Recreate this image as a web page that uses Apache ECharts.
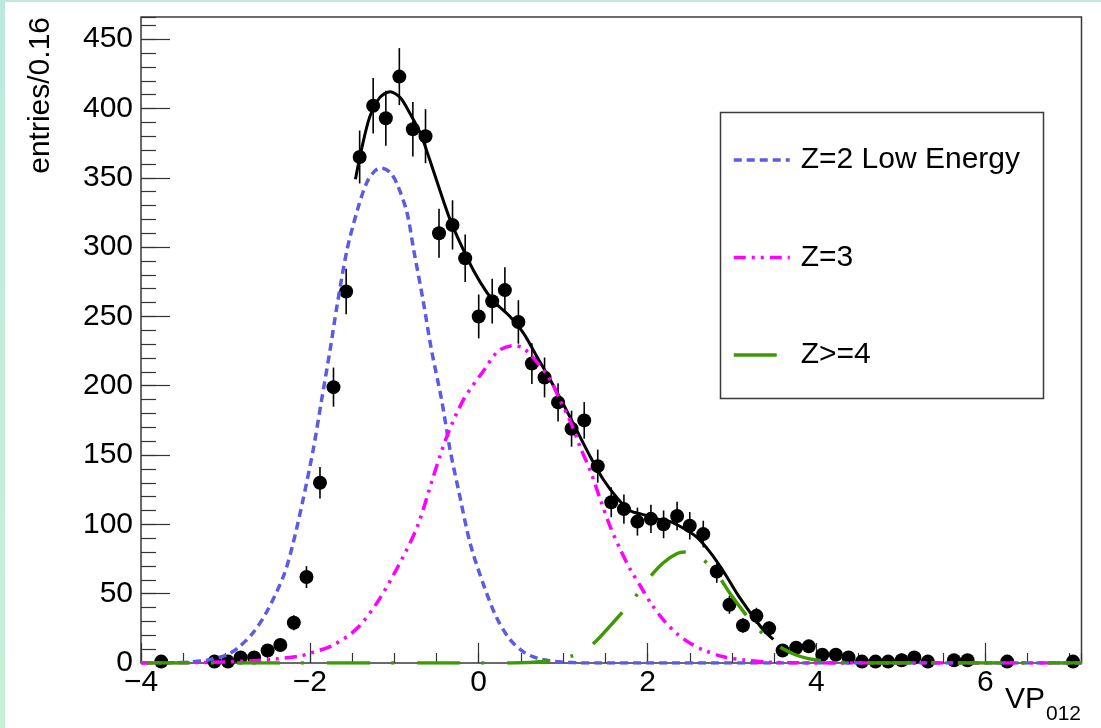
<!DOCTYPE html>
<html>
<head>
<meta charset="utf-8">
<script src="https://cdn.jsdelivr.net/npm/echarts@6/dist/echarts.min.js"></script>
<style>
  html, body { margin: 0; padding: 0; background: #fff; }
  #chart { position: absolute; left: 0; top: 0; width: 1101px; height: 728px; }
  .edge-left { position: absolute; left: 0; top: 0; width: 5px; height: 728px;
               background: linear-gradient(#bde8df, #c6f1d6); }
  .edge-top { position: absolute; left: 0; top: 0; width: 1101px; height: 2px; background: #bfe9df; }
</style>
</head>
<body>
<div id="chart"></div>
<div class="edge-left"></div>
<div class="edge-top"></div>
<script>
// Histogram of VP012: bin centres and counts (empty bins are left out)
const binCenters = [
  -3.76, -3.13, -2.97, -2.82, -2.66, -2.50, -2.35, -2.19, -2.04, -1.88,
  -1.72, -1.57, -1.41, -1.25, -1.10, -0.94, -0.78, -0.63, -0.47, -0.31,
  -0.16, 0.00, 0.16, 0.31, 0.47, 0.63, 0.78, 0.94, 1.10, 1.25,
  1.41, 1.57, 1.72, 1.88, 2.04, 2.19, 2.35, 2.50, 2.66, 2.82,
  2.97, 3.13, 3.29, 3.44, 3.60, 3.76, 3.91, 4.07, 4.23, 4.38,
  4.54, 4.70, 4.85, 5.01, 5.16, 5.32, 5.63, 5.79, 6.26, 7.04
];
const entries = [
  1, 1, 1, 4, 4, 9, 13, 29, 62, 130,
  199, 268, 365, 402, 393, 423, 385, 380, 310, 316,
  292, 250, 261, 269, 246, 216, 206, 188, 169, 175,
  142, 116, 111, 102, 104, 100, 106, 99, 93, 66,
  42, 27, 34, 25, 9, 11, 12, 6, 6, 4,
  1, 1, 1, 2, 4, 1, 2, 2, 1, 1
];

// Total fit curve (x, y samples)
const fitX = [-1.46, -1.39, -1.29, -1.17, -1.05, -0.93, -0.81, -0.69, -0.58, -0.46,
  -0.34, -0.22, -0.06, 0.10, 0.21, 0.37, 0.53, 0.69, 0.85, 1.00,
  1.16, 1.32, 1.48, 1.64, 1.79, 1.95, 2.11, 2.27, 2.43, 2.58,
  2.74, 2.90, 3.06, 3.22, 3.37, 3.49];
const fitY = [349, 370, 394, 408, 412, 408, 396, 382, 363, 341,
  320, 303, 283, 267, 259, 250, 238, 221, 204, 187,
  168, 149, 132, 119, 110, 107, 104, 102, 97, 91,
  80, 66, 50, 36, 24, 17];

// Z=2 low energy component
const z2X = [-4.00, -3.60, -3.42, -3.22, -2.98, -2.83, -2.67, -2.51, -2.31, -2.20,
  -2.08, -1.96, -1.86, -1.76, -1.68, -1.56, -1.44, -1.33, -1.23, -1.15,
  -1.05, -0.97, -0.85, -0.77, -0.66, -0.56, -0.44, -0.34, -0.24, -0.10,
  0.06, 0.21, 0.37, 0.53, 0.69, 0.85, 1.00, 1.20, 1.40, 7.14];
const z2Y = [0, 0.3, 0.7, 2, 6, 12, 22, 37, 63, 86,
  118, 154, 190, 226, 257, 298, 326, 346, 355, 357,
  354, 346, 325, 298, 262, 226, 190, 154, 125, 86,
  56, 33, 17, 8, 3.5, 1.5, 0.6, 0.1, 0, 0];

// Z=3 component
const z3X = [-4.00, -3.30, -2.71, -2.39, -2.12, -2.00, -1.72, -1.44, -1.21, -0.97,
  -0.73, -0.54, -0.38, -0.18, 0.06, 0.23, 0.41, 0.53, 0.69, 0.85,
  0.96, 1.08, 1.20, 1.32, 1.44, 1.56, 1.68, 1.80, 1.92, 2.04,
  2.19, 2.35, 2.51, 2.66, 2.90, 3.14, 3.45, 3.80, 4.20, 7.14];
const z3Y = [0, 0.3, 1.5, 3, 5, 7, 13, 25, 43, 68,
  98, 134, 163, 190, 211, 225, 229, 227, 217, 204,
  190, 175, 156, 139, 118, 98, 81.5, 67, 55, 43,
  31, 21, 14, 9.4, 4.5, 2.2, 0.6, 0.1, 0, 0];

// Z>=4 component
const z4X = [-4.00, 0.40, 0.80, 1.09, 1.32, 1.56, 1.84, 2.00, 2.18, 2.35,
  2.45, 2.51, 2.63, 2.80, 2.99, 3.15, 3.30, 3.48, 3.73, 3.96,
  4.20, 4.50, 4.80, 7.14];
const z4Y = [0, 0, 1.3, 4.8, 12, 27, 46.6, 60, 72, 79,
  80, 79.5, 76, 66, 49, 36, 25, 15, 6.5, 2.5,
  0.8, 0.1, 0, 0];

const seriesNames = ['Z=2 Low Energy', 'Z=3', 'Z>=4'];
const xTitle = 'VP';
const xTitleSub = '012';
const yTitle = 'entries/0.16';

const X_MIN = -4, X_MAX = 7.14, Y_MAX = 466;
const FONT = '"Liberation Sans", Arial, Helvetica, sans-serif';
const AXIS_COLOR = '#333';

const pairs = (xs, ys) => xs.map((x, i) => [x, ys[i]]);
const niceMinus = v => String(v).replace('-', '\u2212');

const chart = echarts.init(document.getElementById('chart'), null, { renderer: 'canvas' });

const tickAxis = (common, over) => Object.assign({}, common, over);

const xCommon = {
  type: 'value', min: X_MIN, max: X_MAX, position: 'bottom',
  axisLine: { show: false, onZero: false }, splitLine: { show: false }
};
const yCommon = {
  type: 'value', min: 0, max: Y_MAX, position: 'left',
  axisLine: { show: false, onZero: false }, splitLine: { show: false }
};

const lineSeries = (name, xs, ys, color, type, width, z, dashOffset) => ({
  name, type: 'line', data: pairs(xs, ys),
  smooth: 0.3, symbol: 'none', showSymbol: false, z,
  lineStyle: { color, width, type, cap: 'butt', dashOffset: dashOffset || 0 },
  itemStyle: { color },
  emphasis: { disabled: true }
});

chart.setOption({
  animation: false,
  backgroundColor: '#fff',
  grid: {
    left: 141, top: 17, right: 19.5, bottom: 65,
    show: true, borderColor: '#3a3a3a', borderWidth: 1.5, backgroundColor: 'transparent'
  },
  title: [
    { text: xTitle, right: 56, top: 685, padding: 0,
      textStyle: { fontSize: 30, lineHeight: 30, fontWeight: 'normal', fontFamily: FONT, color: '#000' } },
    { text: xTitleSub, right: 20, top: 704, padding: 0,
      textStyle: { fontSize: 21, lineHeight: 21, fontWeight: 'normal', fontFamily: FONT, color: '#000' } }
  ],
  graphic: [
    { type: 'text', x: 41, y: 17, rotation: Math.PI / 2, z: 10,
      style: { text: yTitle, fill: '#000', font: '30px ' + FONT,
               align: 'right', verticalAlign: 'middle',
               textAlign: 'right', textVerticalAlign: 'middle' } },
    { type: 'rect', z: 3,
      shape: { x: 720.5, y: 112.5, width: 323, height: 286 },
      style: { fill: '#fff', stroke: '#3a3a3a', lineWidth: 1.5 } }
  ],
  legend: {
    data: seriesNames, orient: 'vertical', left: 720, top: 112,
    padding: [33, 0, 29, 12], itemWidth: 56, itemHeight: 14, itemGap: 67.5,
    selectedMode: false, z: 5,
    itemStyle: { color: 'transparent', borderColor: 'transparent', borderWidth: 0, opacity: 0 },
    lineStyle: { width: 3.5, dashOffset: 0 },
    textStyle: { fontSize: 30, lineHeight: 30, fontFamily: FONT, color: '#000', padding: [0, 0, 0, 6] }
  },
  xAxis: [
    tickAxis(xCommon, {
      interval: 2,
      axisTick: { inside: true, length: 20, lineStyle: { color: AXIS_COLOR, width: 1.2 } },
      axisLabel: { margin: 5, fontSize: 30, lineHeight: 30, fontFamily: FONT, color: '#000',
                   showMaxLabel: false,
                   formatter: v => (Math.abs(v - X_MAX) < 1e-6 ? '' : niceMinus(v)) }
    }),
    tickAxis(xCommon, {
      interval: 0.5,
      axisTick: { inside: true, length: 10, lineStyle: { color: AXIS_COLOR, width: 1.2 } },
      axisLabel: { show: false }
    })
  ],
  yAxis: [
    tickAxis(yCommon, {
      interval: 50,
      axisTick: { inside: true, length: 29, lineStyle: { color: AXIS_COLOR, width: 1.2 } },
      axisLabel: { margin: 8, fontSize: 30, fontFamily: FONT, color: '#000',
                   showMaxLabel: false,
                   formatter: v => (v > 455 ? '' : String(v)) }
    }),
    tickAxis(yCommon, {
      interval: 10,
      axisTick: { inside: true, length: 15, lineStyle: { color: AXIS_COLOR, width: 1.2 } },
      axisLabel: { show: false }
    })
  ],
  series: [
    {
      name: 'errors', type: 'custom', xAxisIndex: 0, yAxisIndex: 0, z: 2, clip: true,
      data: pairs(binCenters, entries),
      renderItem(params, api) {
        const x = api.value(0), y = api.value(1), e = Math.sqrt(y);
        const p1 = api.coord([x, y + e]);
        const p2 = api.coord([x, y - e]);
        return { type: 'line', shape: { x1: p1[0], y1: p1[1], x2: p2[0], y2: p2[1] },
                 style: { stroke: '#000', lineWidth: 1.6 } };
      }
    },
    {
      name: 'data', type: 'scatter', xAxisIndex: 0, yAxisIndex: 0, z: 3,
      data: pairs(binCenters, entries),
      symbol: 'circle', symbolSize: 14, itemStyle: { color: '#000', opacity: 1 },
      emphasis: { disabled: true }
    },
    lineSeries('fit', fitX, fitY, '#000', 'solid', 3, 4),
    lineSeries(seriesNames[0], z2X, z2Y, '#5b5be3', [8, 5], 3.5, 5),
    lineSeries(seriesNames[1], z3X, z3Y, '#ff00ff', [12, 6, 3, 6, 3, 6], 3.5, 6),
    lineSeries(seriesNames[2], z4X, z4Y, '#3d9a00', [43, 21, 3, 23], 3.5, 7, 84)
  ]
});
</script>
</body>
</html>
